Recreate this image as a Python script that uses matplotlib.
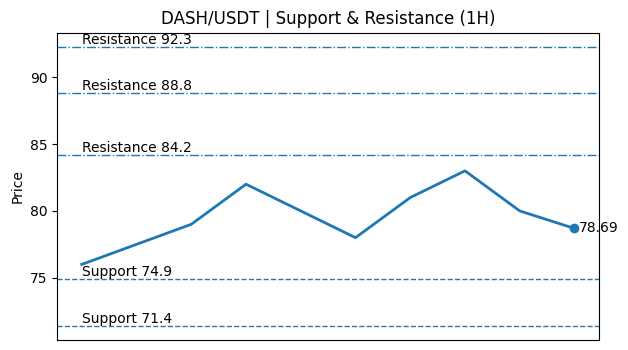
import matplotlib
matplotlib.use("Agg")
import matplotlib.pyplot as plt
import numpy as np

# price series (1H closes)
prices = [76.0, 77.5, 79.0, 82.0, 80.0, 78.0, 81.0, 83.0, 80.0, 78.69]
resistance = [92.3, 88.8, 84.2]
support = [74.9, 71.4]
last_price = prices[-1]

fig, ax = plt.subplots(figsize=(6.28, 3.5), dpi=100)
fig.subplots_adjust(left=0.091, right=0.954, bottom=0.029, top=0.907)

x = np.arange(len(prices))
ax.plot(x, prices, color="C0", linewidth=2)
ax.scatter([x[-1]], [last_price], color="C0", zorder=3)
ax.annotate(f"{last_price:.2f}", (x[-1], last_price), xytext=(3.5, 0),
            textcoords="offset points", va="center", fontsize=10)

for lvl in resistance:
    ax.axhline(lvl, color="C0", linestyle="-.", linewidth=1)
    ax.text(0, lvl, f"Resistance {lvl}", va="bottom", fontsize=10)

for lvl in support:
    ax.axhline(lvl, color="C0", linestyle="--", linewidth=1)
    ax.text(0, lvl, f"Support {lvl}", va="bottom", fontsize=10)

ax.set_xticks([])
ax.set_ylabel("Price")
ax.set_title("DASH/USDT | Support & Resistance (1H)")

fig.savefig("out.png")
